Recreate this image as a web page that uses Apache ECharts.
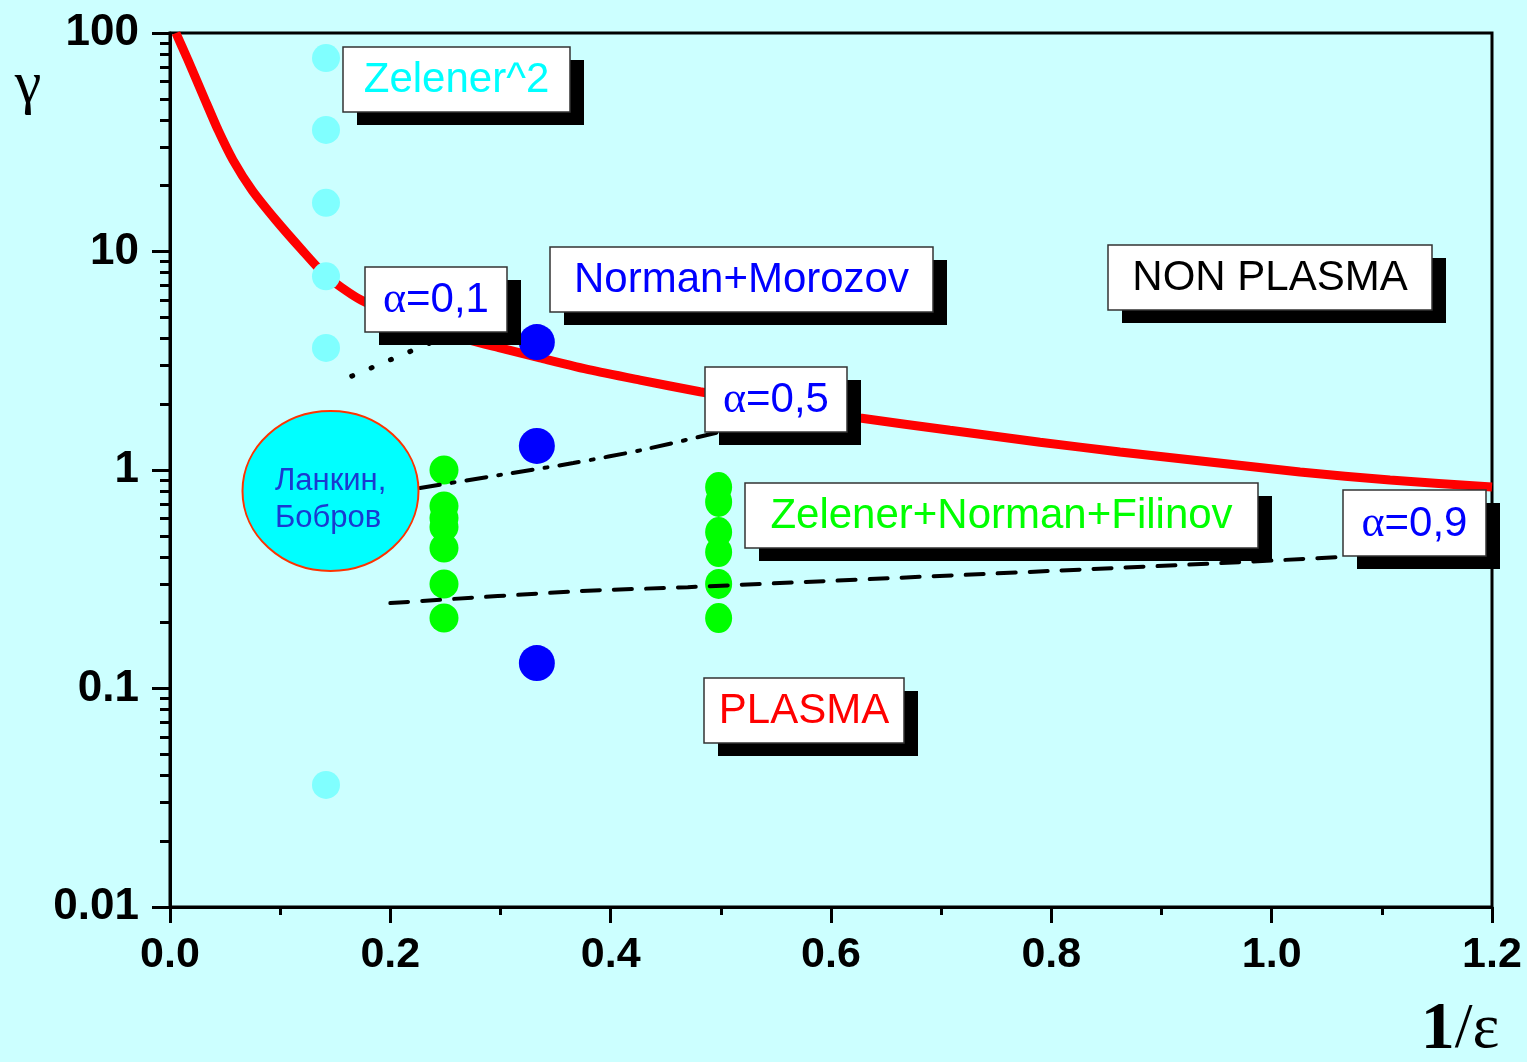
<!DOCTYPE html>
<html><head><meta charset="utf-8">
<script src="https://cdn.jsdelivr.net/npm/echarts@6/dist/echarts.min.js"></script>
<style>html,body{margin:0;padding:0;background:#ccffff;}#c{width:1527px;height:1062px;}</style>
</head><body><div id="c"></div>
<script>
// ---- data ----
const curveX = [0.0054, 0.0163, 0.0318, 0.0436, 0.0572, 0.0744, 0.0962, 0.1198, 0.1416, 0.1707, 0.2088, 0.2542, 0.2995, 0.3359, 0.3812, 0.4266, 0.4811, 0.5537, 0.6263, 0.7080, 0.7897, 0.8623, 0.9440, 1.0257, 1.1074, 1.2];
const curveY = [100, 75.2, 49.4, 36.0, 26.2, 19.1, 13.9, 10.16, 7.73, 6.1, 4.95, 4.15, 3.62, 3.26, 2.87, 2.58, 2.28, 1.98, 1.73, 1.52, 1.34, 1.21, 1.088, 0.979, 0.900, 0.836];

const zel2X = 0.1416;
const zel2Y = [76.8, 36.0, 16.7, 7.7, 3.62, 0.0362];

const nmX = 0.333;
const nmY = [3.85, 1.288, 0.1308];

const znfX1 = 0.2487;
const znfY1 = [1.0, 0.684, 0.603, 0.548, 0.4395, 0.301, 0.210];
const znfX2 = 0.498;
const znfY2 = [0.836, 0.714, 0.520, 0.421, 0.301, 0.210];

const a01X = [0.165, 0.236];
const a01Y = [2.69, 3.81];
const a05X = [0.227, 0.30, 0.366, 0.43, 0.496];
const a05Y = [0.827, 0.95, 1.076, 1.24, 1.48];
const a09X = [0.20, 0.372, 0.47, 0.915, 1.065];
const a09Y = [0.246, 0.279, 0.291, 0.367, 0.400];

const xTickLabels = ['0.0', '0.2', '0.4', '0.6', '0.8', '1.0', '1.2'];
const yTickValues = [0.01, 0.1, 1, 10, 100];
const yTickLabels = ['0.01', '0.1', '1', '10', '100'];
const yMinorValues = [];
[0.01, 0.1, 1, 10].forEach(function (d) { for (let k = 2; k <= 9; k++) yMinorValues.push(+(d * k).toPrecision(3)); });

// ---- helpers ----
function zip(xs, ys) { return ys.map(function (y, i) { return [Array.isArray(xs) ? xs[i] : xs, y]; }); }
const SANS = '"Liberation Sans", Arial, sans-serif';
const SERIF = '"Liberation Serif", "Times New Roman", serif';

function box(left, top, w, h, textStyle) {
  return [
    { type: 'rect', z: 100, shape: { x: left + 14, y: top + 13, width: w, height: h }, style: { fill: '#000' } },
    { type: 'rect', z: 101, shape: { x: left, y: top, width: w, height: h }, style: { fill: '#fff', stroke: '#333', lineWidth: 1.5 } },
    { type: 'text', z: 102, x: left + w / 2, y: top + h / 2 + 1, style: Object.assign({ textAlign: 'center', textVerticalAlign: 'middle', align: 'center', verticalAlign: 'middle' }, textStyle) }
  ];
}
function plain(t, color) { return { text: t, font: '42px ' + SANS, fill: color }; }
function alpha(t) {
  return {
    text: '{a|α}{b|' + t + '}',
    rich: {
      a: { fontFamily: SERIF, fontSize: 44, fill: '#0000ff', color: '#0000ff' },
      b: { fontFamily: SANS, fontSize: 42, fill: '#0000ff', color: '#0000ff' }
    }
  };
}

const chart = echarts.init(document.getElementById('c'), null, { renderer: 'canvas' });

const axisLineStyle = { color: '#000', width: 3 };
const graphics = [].concat(
  box(343, 47, 227, 65, plain('Zelener^2', '#00ffff')),
  box(365, 267, 142, 65, alpha('=0,1')),
  box(550, 247, 383, 65, plain('Norman+Morozov', '#0000ff')),
  box(1108, 245, 324, 65, plain('NON PLASMA', '#000000')),
  box(705, 367, 142, 65, alpha('=0,5')),
  box(745, 483, 513, 65, plain('Zelener+Norman+Filinov', '#00ff00')),
  box(1343, 490, 143, 66, alpha('=0,9')),
  box(704, 678, 200, 65, plain('PLASMA', '#ff0000')),
  [
    { type: 'ellipse', z: 100, shape: { cx: 330.5, cy: 491, rx: 88, ry: 80 }, style: { fill: '#00ffff', stroke: '#ff3300', lineWidth: 2 } },
    { type: 'text', z: 101, x: 275, y: 481, style: { text: 'Ланкин,', font: '31px ' + SANS, fill: '#1a3ad0', textAlign: 'left', textVerticalAlign: 'middle', align: 'left', verticalAlign: 'middle' } },
    { type: 'text', z: 101, x: 275, y: 518, style: { text: 'Бобров', font: '31px ' + SANS, fill: '#1a3ad0', textAlign: 'left', textVerticalAlign: 'middle', align: 'left', verticalAlign: 'middle' } },
    { type: 'text', z: 101, x: 28, y: 86, style: { text: 'γ', font: '60px ' + SERIF, fill: '#000', textAlign: 'center', textVerticalAlign: 'middle', align: 'center', verticalAlign: 'middle' } },
    { type: 'text', z: 101, x: 1460, y: 1030, style: {
        text: '{a|1}{b|/ε}', textAlign: 'center', textVerticalAlign: 'middle', align: 'center', verticalAlign: 'middle',
        rich: { a: { fontFamily: SERIF, fontSize: 68, fontWeight: 'bold', fill: '#000' }, b: { fontFamily: SERIF, fontSize: 64, fill: '#000' } } } }
  ]
);

const option = {
  animation: false,
  backgroundColor: '#ccffff',
  grid: { left: 170, right: 35, top: 33, bottom: 155, show: true, borderColor: '#000', borderWidth: 3, backgroundColor: 'transparent' },
  xAxis: [{
    type: 'value', min: 0, max: 1.2, interval: 0.2, position: 'bottom',
    axisLine: { show: true, onZero: false, lineStyle: axisLineStyle },
    axisTick: { show: true, length: 16, lineStyle: axisLineStyle },
    minorTick: { show: true, splitNumber: 2, length: 8, lineStyle: axisLineStyle },
    splitLine: { show: false },
    axisLabel: {
      fontSize: 43, fontWeight: 'bold', color: '#000', fontFamily: SANS, margin: 27,
      formatter: function (v) { return xTickLabels[Math.round(v / 0.2)]; }
    }
  }],
  yAxis: [{
    type: 'log', logBase: 10, min: 0.01, max: 100, position: 'left',
    axisLine: { show: true, onZero: false, lineStyle: axisLineStyle },
    axisTick: { show: true, length: 18, lineStyle: axisLineStyle },
    splitLine: { show: false },
    axisLabel: {
      fontSize: 44, fontWeight: 'bold', color: '#000', fontFamily: SANS, margin: 31,
      formatter: function (v) {
        let best = 0;
        yTickValues.forEach(function (t, i) { if (Math.abs(Math.log10(t) - Math.log10(v)) < 0.01) best = i; });
        return yTickLabels[best];
      }
    }
  }, {
    type: 'log', logBase: 10, min: 0.01, max: 100, position: 'left',
    axisLine: { show: false },
    axisTick: { show: true, length: 10, customValues: yMinorValues, lineStyle: axisLineStyle },
    splitLine: { show: false },
    axisLabel: { show: false }
  }],
  series: [
    { name: 'curve', type: 'line', data: zip(curveX, curveY), smooth: 0.2, showSymbol: false, clip: true,
      lineStyle: { color: '#ff0000', width: 9 }, z: 2 },
    { name: 'Zelener^2', type: 'scatter', data: zip(zel2X, zel2Y), symbolSize: 28, itemStyle: { color: '#80ffff', opacity: 1 }, z: 3 },
    { name: 'Norman+Morozov', type: 'scatter', data: zip(nmX, nmY), symbolSize: 36, itemStyle: { color: '#0000ff', opacity: 1 }, z: 3 },
    { name: 'ZNF 0.25', type: 'scatter', data: zip(znfX1, znfY1), symbolSize: 29, itemStyle: { color: '#00ff00', opacity: 1 }, z: 3 },
    { name: 'ZNF 0.5', type: 'scatter', data: zip(znfX2, znfY2), symbolSize: [27, 30], itemStyle: { color: '#00ff00', opacity: 1 }, z: 3 },
    { name: 'a01', type: 'line', data: zip(a01X, a01Y), showSymbol: false, z: 4,
      lineStyle: { color: '#000', width: 5, type: [1, 20], cap: 'round' } },
    { name: 'a05', type: 'line', data: zip(a05X, a05Y), showSymbol: false, z: 4, smooth: 0.3,
      lineStyle: { color: '#000', width: 4, type: [20, 12, 3, 12], cap: 'round' } },
    { name: 'a09', type: 'line', data: zip(a09X, a09Y), showSymbol: false, z: 4, smooth: 0.3,
      lineStyle: { color: '#000', width: 4, type: [18, 14], cap: 'round' } }
  ],
  graphic: { elements: graphics }
};
chart.setOption(option);
</script>
</body></html>
